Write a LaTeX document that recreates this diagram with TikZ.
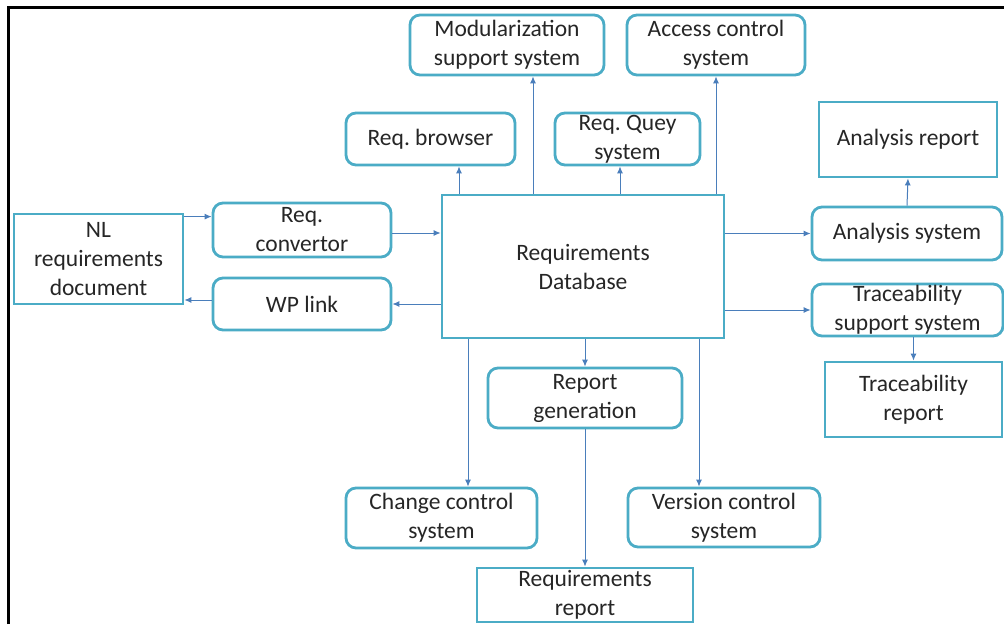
\documentclass[tikz,border=0pt]{standalone}
\usepackage{fontspec}
\setmainfont{Carlito}
\frenchspacing
\usetikzlibrary{shapes,positioning,arrows,arrows.meta,calc}
\definecolor{boxblue}{HTML}{4BACC6}
\definecolor{linkblue}{HTML}{4A7EBB}
\definecolor{txt}{HTML}{262626}
\begin{document}
\begin{tikzpicture}[x=1pt,y=-1pt,
        box/.style={draw=boxblue,line width=2.8pt,inner sep=0pt,align=center,text=txt,font=\fontsize{23.5}{29}\selectfont},
        rbox/.style={box,rounded corners=10pt},
        link/.style={draw=linkblue,line width=1pt,-{Latex[length=7pt,width=6pt]}}]
        \fill[white] (0,0) rectangle (1004,624);
        \useasboundingbox (0,0) rectangle (1004,624);
        \draw[line width=3pt] (8,624) -- (8,7) -- (1004,7);
        \node[rbox,minimum width=194pt,minimum height=60pt] (modu) at (507,45) {Modularization\\support system};
        \node[rbox,minimum width=178pt,minimum height=60pt] (acc) at (716,45) {Access control\\system};
        \node[rbox,minimum width=169pt,minimum height=52pt] (brw) at (430.5,139) {Req. browser};
        \node[rbox,minimum width=145pt,minimum height=52pt] (quey) at (627.5,139) {Req. Quey\\system};
        \node[box,minimum width=178pt,minimum height=75pt] (arep) at (908,139.5) {Analysis report};
        \node[box,minimum width=169pt,minimum height=90pt] (nl) at (98.5,259) {NL\\requirements\\document};
        \node[rbox,minimum width=178pt,minimum height=54pt] (conv) at (302,230) {Req.\\convertor};
        \node[rbox,minimum width=178pt,minimum height=52pt] (wp) at (302,304) {WP link};
        \node[box,minimum width=282pt,minimum height=143pt] (db) at (583,266.5) {Requirements\\Database};
        \node[rbox,minimum width=190pt,minimum height=53pt] (asys) at (907,233.5) {Analysis system};
        \node[rbox,minimum width=191pt,minimum height=52pt] (tsys) at (907.5,310) {Traceability\\support system};
        \node[box,minimum width=177pt,minimum height=75pt] (trep) at (913.5,399.5) {Traceability\\report};
        \node[rbox,minimum width=194pt,minimum height=60pt] (rgen) at (585,398) {Report\\generation};
        \node[rbox,minimum width=191pt,minimum height=60pt] (chg) at (441.5,518) {Change control\\system};
        \node[rbox,minimum width=192pt,minimum height=59pt] (ver) at (724,517.5) {Version control\\system};
        \node[box,minimum width=216pt,minimum height=54pt] (rrep) at (585,595) {Requirements\\report};
        \draw[link] ([xshift=28.5pt]brw.south |- db.north) -- ([xshift=28.5pt]brw.south);
        \draw[link] ([xshift=26pt]modu.south |- db.north) -- ([xshift=26pt]modu.south);
        \draw[link] ([xshift=-7.5pt]quey.south |- db.north) -- ([xshift=-7.5pt]quey.south);
        \draw[link] (acc.south |- db.north) -- (acc.south);
        \draw[link] (db.east |- asys.west) -- (asys.west);
        \draw[link] (db.east |- tsys.west) -- (tsys.west);
        \draw[link] (asys.north) -- (arep.south);
        \draw[link] (tsys.south -| trep.north) -- (trep.north);
        \draw[link] ([yshift=-4pt]nl.north east) -- ([yshift=-4pt]nl.north east -| conv.west);
        \draw[link] ([yshift=-3pt]conv.east) -- ([yshift=-3pt]conv.east -| db.west);
        \draw[link] (db.west |- wp.east) -- (wp.east);
        \draw[link] ([yshift=4pt]wp.west) -- ([yshift=4pt]wp.west -| nl.east);
        \draw[link] ([xshift=26.5pt]chg.north |- db.south) -- ([xshift=26.5pt]chg.north);
        \draw[link] (db.south -| rgen.north) -- (rgen.north);
        \draw[link] ([xshift=-25pt]ver.north |- db.south) -- ([xshift=-25pt]ver.north);
        \draw[link] (rgen.south) -- (rrep.north);
    \end{tikzpicture}
\end{document}
